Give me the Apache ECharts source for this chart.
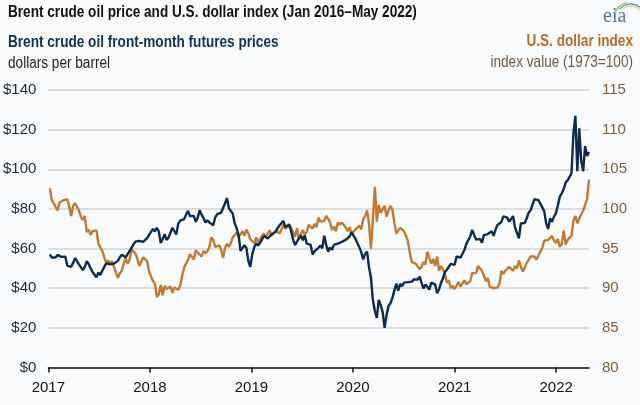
<!DOCTYPE html>
<html><head><meta charset="utf-8">
<script src="https://cdn.jsdelivr.net/npm/echarts@6/dist/echarts.min.js"></script>
<style>html,body{margin:0;padding:0;background:#fafbfc}#c{width:640px;height:405px}</style>
</head><body><div id="c"></div>
<script>
// weekly observations (Fridays), first one on 2017-01-06
const firstObs = [2017, 0, 6];
const lastDay = [2022, 3, 29];
const yearLabels = ['2017', '2018', '2019', '2020', '2021', '2022'];
const brentTicks = [0, 20, 40, 60, 80, 100, 120, 140];
const indexTicks = [80, 85, 90, 95, 100, 105, 110, 115];

// Brent crude oil front-month futures, $/barrel
const brent2017 = [57.1,55.5,55.5,55.5, 56.8,56.7,55.8,56.0, 55.9,51.4,51.8,50.8,52.8, 55.2,55.9,52.0,52.0, 49.1,50.8,53.6,52.2, 50.0,48.2,47.4,45.5,47.9, 46.7,48.9,48.1,52.5, 52.4,52.1,52.7,52.4, 52.8,53.8,55.6,56.9,57.5, 55.6,57.2,57.8,60.4, 62.1,63.5,62.7,63.9, 63.7,63.4,63.2,65.3,66.9];
const brent2018 = [67.6,69.9,68.6,70.5, 68.6,62.8,64.8,67.3, 64.4,65.5,66.2,70.5,70.3, 67.1,72.6,74.1,74.6, 74.9,77.1,79.0,76.4, 76.8,76.5,73.4,75.6,79.4, 77.1,75.3,73.1,74.3, 73.2,72.8,71.8,75.8,77.4, 76.8,78.1,78.8,82.7, 85.5,80.4,79.8,77.6, 72.8,70.2,66.8,58.8,58.7, 61.7,60.3,53.8,50.8];
const brent2019 = [57.1,60.5,62.7,61.6, 62.8,62.1,66.3,67.1, 65.1,65.7,67.2,67.0,68.4, 70.3,71.6,72.0,74.0, 70.9,70.6,72.2,68.7,64.5, 61.7,62.0,65.2,66.6, 64.2,66.7,62.5,63.5, 61.9,57.0,58.6,59.3,60.4, 61.5,60.2,66.5,61.9, 58.4,60.5,59.4,62.0, 61.7,62.5,63.3,63.4,62.4, 64.4,65.2,66.1,68.2];
const brent2020 = [68.6,65.0,64.9,60.7,58.2, 54.5,57.3,58.5,50.5, 45.3,33.9,28.5,25.0, 34.1,31.5,28.1,20.0, 26.4,30.9,32.5,35.1,35.3, 42.3,38.7,42.2,41.0, 42.8,43.2,43.1,43.3,43.3, 44.4,44.8,44.4,45.8, 42.7,39.8,41.9,42.4, 39.3,42.9,42.9,41.8,37.5, 39.5,42.8,45.0,48.2, 49.3,50.0,52.3,51.3];
const brent2021 = [51.8,56.0,55.1,55.4,55.9, 59.3,62.4,62.9,66.1, 69.4,69.2,64.5,64.6, 64.9,63.0,66.8,66.1,67.3, 68.3,68.7,66.4,69.6, 71.9,72.7,73.5,76.2, 76.2,75.6,73.6,74.1,76.3, 70.7,70.6,65.2,72.7, 72.6,72.9,75.3,78.1, 79.3,82.4,84.9,85.5,84.4, 82.7,82.2,78.9,72.7, 69.9,75.2,73.5,76.1,77.8];
const brent2022 = [81.8,86.1,87.9,90.0, 93.3,94.4,93.5,97.9, 118.1,127.0,99.0,120.7, 104.4,99.0,111.7,106.7,108.7];

// U.S. dollar index (1973=100)
const dxy2017 = [102.6,101.2,100.7,100.5, 99.8,100.8,100.9,101.1, 101.3,101.2,100.3,99.1,100.4, 100.7,100.5,99.8,99.0, 98.6,99.1,97.1,97.4, 96.7,97.2,97.2,97.3,95.6, 95.8,94.7,93.9,93.2, 93.5,93.1,93.4,92.7, 92.8,91.3,91.9,92.2,93.1, 93.8,93.1,93.6,94.9, 94.9,94.4,93.7,92.8, 93.0,93.9,93.9,93.4,92.1];
const dxy2018 = [91.9,90.9,90.6,88.9, 89.2,90.4,89.1,90.3, 89.9,90.1,90.2,89.4,90.1, 90.1,89.8,90.3,91.5, 92.6,92.6,93.6,94.3, 94.2,93.6,94.8,94.5,94.6, 94.0,94.7,94.4,94.7, 95.2,96.4,96.1,95.2,95.1, 95.4,94.9,93.8,95.1, 95.6,95.2,95.7,96.4, 96.5,97.0,96.5,96.8,97.2, 96.6,97.4,96.9,96.2];
const dxy2019 = [96.2,95.7,96.4,95.8, 95.6,96.6,96.9,96.5, 96.5,97.3,96.6,96.6,97.3, 97.4,96.9,97.4,98.0, 97.5,97.3,97.9,97.6,97.8, 96.5,97.6,96.2,96.1, 97.3,96.8,97.1,98.0, 98.1,97.5,98.1,97.7,98.9, 98.4,98.3,98.5,99.1, 98.8,98.3,97.3,97.8, 97.2,98.3,98.0,98.3,98.3, 97.7,97.2,97.7,96.9];
const dxy2020 = [96.8,97.4,97.6,97.9,97.4, 98.7,99.1,99.8,98.1, 95.0,98.7,102.8,98.4, 100.5,99.5,99.7,100.4, 99.0,99.8,100.4,99.9,98.3, 96.9,97.3,97.6,97.4, 97.2,96.6,95.9,94.4,93.3, 93.4,93.1,93.2,92.4, 92.7,93.3,93.0,94.6, 93.8,93.1,93.7,92.8,94.0, 92.2,92.8,92.4,91.8, 90.7,91.0,90.0,90.3];
const dxy2021 = [89.9,90.1,90.8,90.2,90.6, 91.0,90.5,90.4,90.9, 91.9,91.7,91.9,92.8, 93.0,92.2,91.6,90.9,91.3, 90.2,90.3,90.0,90.0, 90.1,90.6,92.2,91.8, 92.2,92.1,92.7,92.9,92.2, 92.8,92.5,93.5,92.7, 92.1,92.6,93.2,93.3, 94.0,94.1,94.0,93.6,94.1, 94.3,95.1,96.0,96.1, 96.1,96.1,96.6,96.0,95.7];
const dxy2022 = [96.2,95.2,95.6,97.3, 95.5,96.1,96.0,96.6, 98.5,99.1,98.2,98.8, 98.6,99.8,100.5,101.2,103.7];

const brent = [].concat(brent2017, brent2018, brent2019, brent2020, brent2021, brent2022);
const dollarIndex = [].concat(dxy2017, dxy2018, dxy2019, dxy2020, dxy2021, dxy2022);

const dates = brent.map((_, i) => new Date(firstObs[0], firstObs[1], firstObs[2] + 7 * i).getTime());
const yearValues = yearLabels.map(y => new Date(+y, 0, 1).getTime());
const xMax = new Date(lastDay[0], lastDay[1], lastDay[2]).getTime();

const NAVY = '#0e2b4c', ORANGE = '#c27a30';
const FONT = '"Liberation Sans", Arial, sans-serif';
const SX = 0.85; // narrow-font look for header texts

function headerText(x, y, text, weight, color, align) {
  return {type: 'text', x: x, y: y, scaleX: SX, scaleY: 1,
    style: {text: text, font: weight + ' 16px ' + FONT, fill: color, textAlign: align, textVerticalAlign: 'middle'}};
}

const chart = echarts.init(document.getElementById('c'), null, {renderer: 'canvas'});
chart.setOption({
  backgroundColor: '#fafbfc',
  animation: false,
  grid: {left: 48, right: 51, top: 90, bottom: 37.5},
  xAxis: {
    type: 'value', min: yearValues[0], max: xMax, scale: true,
    axisLine: {show: true, lineStyle: {color: '#111', width: 1.5}},
    axisTick: {show: true, customValues: yearValues, length: 5, lineStyle: {color: '#111', width: 1.5}},
    axisLabel: {customValues: yearValues, formatter: v => String(new Date(v).getFullYear()),
      color: '#111', fontSize: 15, margin: 13, fontFamily: FONT},
    splitLine: {show: false}
  },
  yAxis: [
    {type: 'value', min: brentTicks[0], max: brentTicks[brentTicks.length - 1], interval: 20, position: 'left',
      axisLine: {show: false}, axisTick: {show: false},
      axisLabel: {formatter: v => '$' + v, color: '#1c2b3b', fontSize: 15, margin: 12, fontFamily: FONT},
      splitLine: {lineStyle: {color: '#d3d3d3', width: 1.5}}},
    {type: 'value', min: indexTicks[0], max: indexTicks[indexTicks.length - 1], interval: 5, position: 'right',
      axisLine: {show: false}, axisTick: {show: false},
      axisLabel: {color: '#7d5e3e', fontSize: 15, margin: 13, fontFamily: FONT},
      splitLine: {show: false}}
  ],
  series: [
    {name: 'U.S. dollar index', type: 'line', yAxisIndex: 1, showSymbol: false, z: 2,
      data: dates.map((d, i) => [d, dollarIndex[i]]), lineStyle: {color: ORANGE, width: 2.4}},
    {name: 'Brent', type: 'line', yAxisIndex: 0, showSymbol: false, z: 3,
      data: dates.map((d, i) => [d, brent[i]]), lineStyle: {color: NAVY, width: 2.4}}
  ],
  graphic: [
    headerText(8, 13, 'Brent crude oil price and U.S. dollar index (Jan 2016\u2013May 2022)', 'bold', '#111', 'left'),
    headerText(8, 43, 'Brent crude oil front-month futures prices', 'bold', '#13304f', 'left'),
    headerText(8, 64, 'dollars per barrel', 'normal', '#222', 'left'),
    headerText(633, 42, 'U.S. dollar index', 'bold', '#b56c26', 'right'),
    headerText(633, 63, 'index value (1973=100)', 'normal', '#6e5a46', 'right'),
    {type: 'text', x: 603, y: 17, style: {text: 'eia', font: '20px "Liberation Serif", "DejaVu Serif", serif', fill: '#5d7894', textVerticalAlign: 'middle'}},
    {type: 'arc', shape: {cx: 631, cy: 19, r: 17, startAngle: Math.PI * 1.12, endAngle: Math.PI * 1.42}, style: {stroke: '#9cc46a', lineWidth: 1.5, fill: null}},
    {type: 'arc', shape: {cx: 631, cy: 19, r: 15, startAngle: Math.PI * 1.22, endAngle: Math.PI * 1.75}, style: {stroke: '#5b8fc2', lineWidth: 1.3, fill: null}},
    {type: 'arc', shape: {cx: 631, cy: 19, r: 13, startAngle: Math.PI * 1.3, endAngle: Math.PI * 1.9}, style: {stroke: '#e2c35a', lineWidth: 1, fill: null}}
  ]
});
</script>
</body></html>
